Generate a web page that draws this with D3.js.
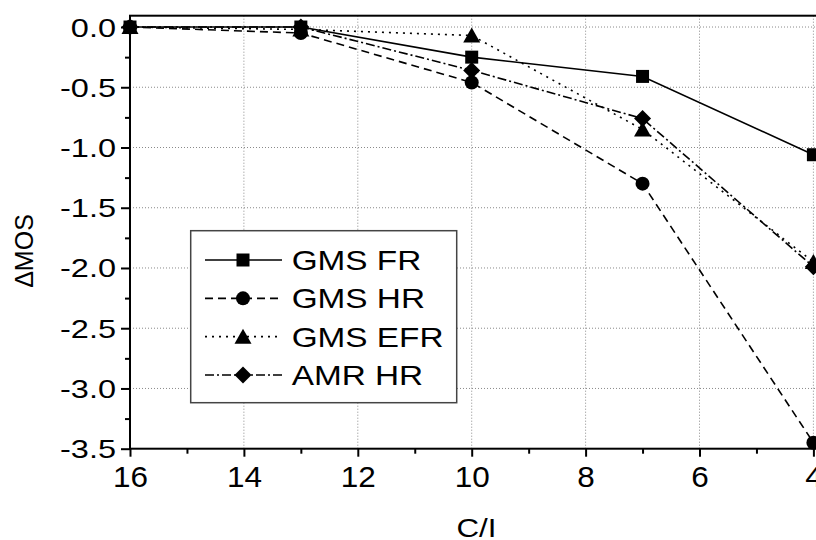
<!DOCTYPE html>
<html>
<head>
<meta charset="utf-8">
<script src="https://cdn.jsdelivr.net/npm/d3@7"></script>
<style>
  html, body { margin: 0; padding: 0; background: #fff; }
  svg { display: block; }
  text { font-family: "Liberation Sans", Arial, sans-serif; fill: #000; }
</style>
</head>
<body>
<svg id="chart" width="816" height="540"></svg>
<script>
// C/I operating points (dB) and the MOS degradation of each codec
const cI = [16, 13, 10, 7, 4];
const gmsFR  = [0, 0, -0.25, -0.41, -1.06];
const gmsHR  = [0, -0.05, -0.46, -1.30, -3.45];
const gmsEFR = [0, -0.02, -0.07, -0.85, -1.95];
const amrHR  = [0, 0, -0.36, -0.76, -1.99];

const seriesNames = ["GMS FR", "GMS HR", "GMS EFR", "AMR HR"];

const xTicks = [16, 14, 12, 10, 8, 6, 4];
const xTickLabels = ["16", "14", "12", "10", "8", "6", "4"];
const xMinorTicks = [15, 13, 11, 9, 7, 5];
const yTicks = [0, -0.5, -1, -1.5, -2, -2.5, -3, -3.5];
const yTickLabels = ["0.0", "-0.5", "-1.0", "-1.5", "-2.0", "-2.5", "-3.0", "-3.5"];
const yMinorTicks = [-0.25, -0.75, -1.25, -1.75, -2.25, -2.75, -3.25];

const xTitle = "C/I";
const yTitle = "\u0394MOS";

const svg = d3.select("#chart");

const plotLeft = 130, plotTop = 15.7, plotBottom = 448.7, xAt4 = 813.4;
const x = d3.scaleLinear().domain([16, 4]).range([plotLeft, xAt4]);
const y = d3.scaleLinear().domain([-3.5, 0.094]).range([plotBottom, plotTop]);

// widen glyphs horizontally to the given factor
function stretch(sel, f) {
  sel.each(function () {
    const w = this.getComputedTextLength();
    d3.select(this).attr("textLength", w * f).attr("lengthAdjust", "spacingAndGlyphs");
  });
}

// grid
const grid = svg.append("g").attr("stroke", "#8a8a8a").attr("stroke-width", 1)
  .attr("stroke-dasharray", "1,2");
grid.selectAll("line.gx").data(xTicks.filter(d => d !== 16)).join("line")
  .attr("x1", d => x(d)).attr("x2", d => x(d)).attr("y1", plotTop).attr("y2", plotBottom);
grid.selectAll("line.gy").data(yTicks.filter(d => d !== -3.5)).join("line")
  .attr("x1", plotLeft).attr("x2", 840).attr("y1", d => y(d)).attr("y2", d => y(d));

// axes (major ticks outward with labels, minor ticks without)
const xAxis = svg.append("g").attr("transform", `translate(0,${plotBottom})`)
  .call(d3.axisBottom(x).tickValues(xTicks).tickSize(8).tickSizeOuter(0)
    .tickFormat((d, i) => xTickLabels[i]));
const xMinor = svg.append("g").attr("transform", `translate(0,${plotBottom})`)
  .call(d3.axisBottom(x).tickValues(xMinorTicks).tickSize(5).tickSizeOuter(0).tickFormat(""));
const yAxis = svg.append("g").attr("transform", `translate(${plotLeft},0)`)
  .call(d3.axisLeft(y).tickValues(yTicks).tickSize(9).tickSizeOuter(0)
    .tickFormat((d, i) => yTickLabels[i]));
const yMinor = svg.append("g").attr("transform", `translate(${plotLeft},0)`)
  .call(d3.axisLeft(y).tickValues(yMinorTicks).tickSize(5).tickSizeOuter(0).tickFormat(""));

[xAxis, xMinor, yAxis, yMinor].forEach(g => {
  g.select(".domain").remove();
  g.selectAll(".tick line").attr("stroke", "#000").attr("stroke-width", 2);
});
xAxis.selectAll(".tick text")
  .attr("font-family", "Liberation Sans, Arial, sans-serif")
  .attr("font-size", 30).attr("fill", "#000").attr("y", 0).attr("dy", 0)
  .attr("transform", "translate(0,38)");
yAxis.selectAll(".tick text")
  .attr("font-family", "Liberation Sans, Arial, sans-serif")
  .attr("font-size", 25).attr("fill", "#000").attr("x", -14).attr("dy", 0)
  .attr("transform", "translate(0,9)");
stretch(xAxis.selectAll(".tick text"), 1.05);
stretch(yAxis.selectAll(".tick text"), 1.3);

// frame
svg.append("rect").attr("x", plotLeft).attr("y", plotTop).attr("width", 720)
  .attr("height", plotBottom - plotTop)
  .attr("fill", "none").attr("stroke", "#000").attr("stroke-width", 2);

// series styling
const styles = [
  { dash: null, marker: "square" },
  { dash: "8,5", marker: "circle" },
  { dash: "2,5", marker: "triangle" },
  { dash: "9,3,2,3", marker: "diamond" }
];
const allSeries = [gmsFR, gmsHR, gmsEFR, amrHR];

const symbolPath = {
  square: "M-6.5,-6.5H6.5V6.5H-6.5Z",
  circle: "M7,0A7,7 0 1,1 -7,0A7,7 0 1,1 7,0Z",
  triangle: "M0,-8L8.5,7H-8.5Z",
  diamond: "M0,-8.5L8.5,0L0,8.5L-8.5,0Z"
};

const line = d3.line().x(d => x(d[0])).y(d => y(d[1]));
const plot = svg.append("g");
allSeries.forEach((vals, i) => {
  const pts = cI.map((c, j) => [c, vals[j]]);
  plot.append("path").datum(pts).attr("d", line)
    .attr("fill", "none").attr("stroke", "#000").attr("stroke-width", 1.6)
    .attr("stroke-dasharray", styles[i].dash);
});
allSeries.forEach((vals, i) => {
  plot.selectAll(null).data(cI.map((c, j) => [c, vals[j]])).join("path")
    .attr("d", symbolPath[styles[i].marker])
    .attr("transform", d => `translate(${x(d[0])},${y(d[1])})`)
    .attr("fill", "#000");
});

// legend
const lg = svg.append("g");
lg.append("rect").attr("x", 190.7).attr("y", 230.7).attr("width", 266).attr("height", 172)
  .attr("fill", "#fff").attr("stroke", "#444").attr("stroke-width", 1.5);
seriesNames.forEach((name, i) => {
  const cy = 260 + i * 38.33;
  lg.append("line").attr("x1", 205).attr("x2", 282).attr("y1", cy).attr("y2", cy)
    .attr("stroke", "#000").attr("stroke-width", 1.6).attr("stroke-dasharray", styles[i].dash);
  lg.append("path").attr("d", symbolPath[styles[i].marker])
    .attr("transform", `translate(243,${cy})`).attr("fill", "#000");
  const t = lg.append("text").attr("x", 291.7).attr("y", cy + 10)
    .attr("font-size", 28).text(name);
  stretch(t, 1.19);
});

// axis titles
const xt = svg.append("text").attr("x", 476.5).attr("y", 536.5).attr("text-anchor", "middle")
  .attr("font-size", 25).text(xTitle);
stretch(xt, 1.25);
svg.append("text").attr("transform", "translate(33,251) rotate(-90)")
  .attr("text-anchor", "middle").attr("font-size", 25).text(yTitle);
</script>
</body>
</html>
